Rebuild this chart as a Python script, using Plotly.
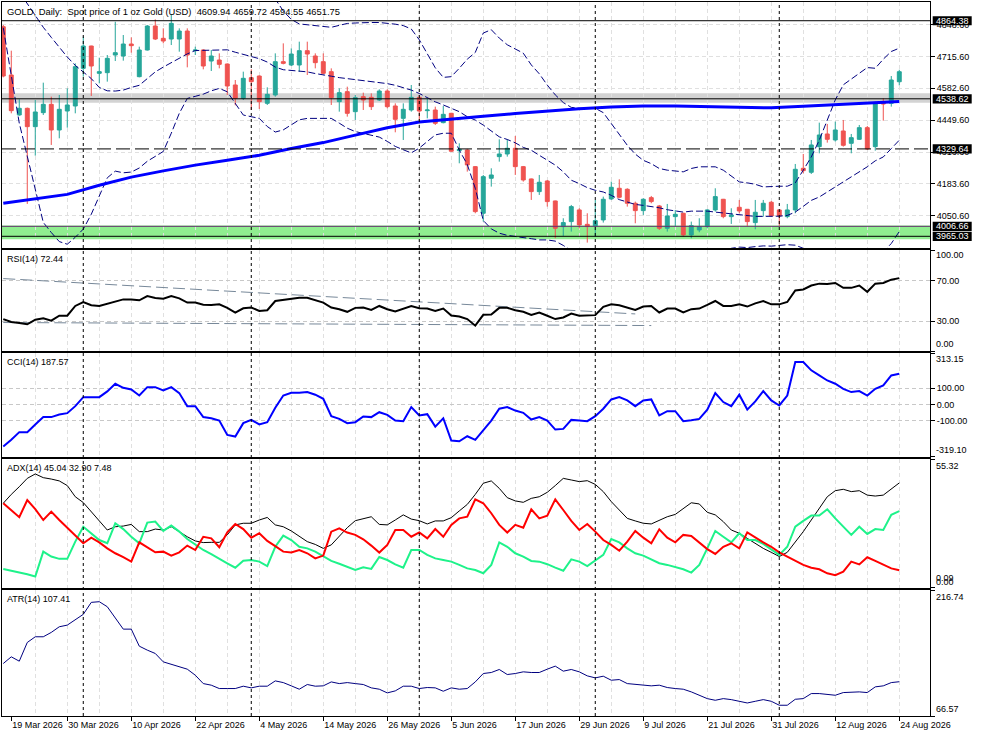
import pandas as pd
import plotly.graph_objects as go

# ---------------- data ----------------
dates = pd.bdate_range("2026-03-18", "2026-08-24")
dates = dates[dates != pd.Timestamp("2026-04-03")]
bars = list(range(len(dates)))

open_ = [4839.5, 4638.0, 4471.2, 4499.0, 4422.5, 4480.9, 4515.6, 4408.6, 4487.8, 4508.7,
         4665.7, 4758.9, 4644.9, 4647.7, 4721.4, 4717.2, 4767.2, 4631.0, 4742.2, 4842.3,
         4790.9, 4788.0, 4788.0, 4821.4, 4739.4, 4742.2, 4696.3, 4700.5, 4683.8, 4596.3,
         4540.7, 4626.8, 4633.8, 4519.8, 4554.6, 4693.6, 4679.7, 4679.7, 4739.4, 4717.2,
         4693.6, 4651.9, 4526.8, 4568.5, 4485.0, 4547.6, 4544.8, 4533.7, 4571.2, 4508.7,
         4457.2, 4492.0, 4544.8, 4489.2, 4492.0, 4439.2, 4478.1, 4322.4, 4325.2, 4255.7,
         4061.1, 4207.1, 4297.4, 4308.5, 4332.2, 4255.7, 4204.3, 4151.5, 4195.9, 4112.5,
         4005.5, 4026.4, 4075.0, 4015.0, 4008.3, 4033.3, 4120.9, 4165.4, 4161.2, 4102.8,
         4072.2, 4126.4, 4091.7, 3998.6, 4047.2, 4061.1, 3970.8, 3991.6, 4005.5, 4075.0,
         4119.5, 4047.2, 4086.1, 4077.8, 4022.2, 4072.2, 4107.0, 4075.0, 4047.2, 4075.0,
         4248.8, 4232.1, 4339.1, 4391.9, 4366.9, 4404.4, 4353.0, 4369.7, 4418.3, 4339.1,
         4522.6, 4519.8, 4609.94]
high = [4846.5, 4739.4, 4536.5, 4502.0, 4533.7, 4606.0, 4547.6, 4554.6, 4582.4, 4686.6,
        4797.8, 4760.0, 4710.2, 4721.4, 4860.0, 4804.8, 4795.0, 4756.1, 4846.5, 4870.0,
        4832.6, 4892.0, 4832.6, 4832.6, 4756.1, 4745.0, 4742.2, 4728.3, 4686.0, 4617.1,
        4651.9, 4661.6, 4636.0, 4586.5, 4728.3, 4770.0, 4749.2, 4777.0, 4777.0, 4728.3,
        4728.3, 4665.7, 4582.4, 4589.3, 4554.6, 4564.3, 4561.5, 4578.2, 4578.2, 4519.8,
        4519.8, 4596.3, 4554.6, 4540.7, 4505.9, 4508.7, 4480.0, 4353.0, 4330.0, 4258.0,
        4220.9, 4248.8, 4369.7, 4369.7, 4383.6, 4258.5, 4206.0, 4220.9, 4200.1, 4114.0,
        4040.3, 4095.9, 4082.0, 4061.1, 4116.7, 4130.6, 4193.2, 4202.9, 4165.4, 4109.8,
        4123.7, 4133.4, 4095.9, 4100.0, 4075.0, 4063.0, 4026.4, 4040.3, 4077.8, 4165.4,
        4121.0, 4082.0, 4116.7, 4079.0, 4116.7, 4116.7, 4112.5, 4077.0, 4100.0, 4266.8,
        4308.5, 4366.9, 4439.2, 4433.6, 4443.4, 4450.3, 4391.9, 4429.5, 4425.3, 4526.8,
        4540.7, 4633.8, 4659.72]
low = [4628.2, 4478.1, 4468.0, 4100.0, 4301.6, 4471.2, 4346.1, 4373.9, 4418.3, 4478.1,
       4631.0, 4550.4, 4603.2, 4610.2, 4696.3, 4697.7, 4731.1, 4628.2, 4740.0, 4783.9,
       4770.0, 4763.0, 4735.2, 4669.9, 4721.4, 4661.6, 4654.6, 4665.7, 4554.6, 4511.5,
       4533.7, 4492.0, 4496.2, 4512.9, 4547.6, 4682.4, 4675.5, 4651.9, 4638.0, 4665.7,
       4642.1, 4512.9, 4485.0, 4464.2, 4450.3, 4492.0, 4492.0, 4529.5, 4499.0, 4398.9,
       4366.9, 4485.0, 4450.3, 4457.2, 4429.5, 4436.4, 4318.2, 4269.6, 4234.9, 4061.1,
       4026.4, 4172.3, 4276.5, 4297.4, 4220.9, 4193.2, 4116.7, 4137.6, 4088.9, 3956.9,
       3966.6, 3984.7, 3998.6, 3938.8, 3963.8, 4022.2, 4116.7, 4123.7, 4088.9, 4019.4,
       4054.2, 4102.8, 3991.6, 3984.7, 4005.5, 3963.8, 3956.9, 3981.9, 3998.6, 4068.0,
       4040.3, 4016.6, 4061.1, 4008.3, 3994.4, 4047.2, 4047.2, 4008.3, 4040.3, 4061.1,
       4227.9, 4225.1, 4311.3, 4355.8, 4360.0, 4339.1, 4311.3, 4366.9, 4325.2, 4322.4,
       4447.5, 4506.0, 4594.55]
close = [4633.8, 4489.2, 4499.0, 4422.5, 4483.7, 4515.6, 4408.6, 4494.8, 4512.9, 4672.7,
         4758.9, 4675.5, 4651.9, 4707.5, 4731.1, 4767.2, 4760.3, 4742.2, 4842.3, 4788.0,
         4779.7, 4853.4, 4821.4, 4721.4, 4742.2, 4675.5, 4717.2, 4682.4, 4592.1, 4540.7,
         4624.1, 4610.2, 4526.8, 4557.3, 4693.6, 4686.6, 4725.5, 4739.4, 4725.5, 4689.4,
         4644.9, 4543.4, 4564.3, 4478.1, 4543.4, 4533.7, 4505.9, 4571.2, 4505.9, 4453.1,
         4494.8, 4544.8, 4487.8, 4492.0, 4436.4, 4473.9, 4320.0, 4328.0, 4262.7, 4068.0,
         4214.0, 4220.9, 4308.5, 4332.2, 4255.7, 4200.1, 4151.5, 4190.4, 4109.8, 3998.6,
         4022.2, 4088.9, 4012.5, 4005.5, 4030.5, 4119.5, 4169.5, 4127.8, 4102.8, 4072.2,
         4119.5, 4109.8, 3998.6, 4050.0, 4056.9, 3970.8, 4009.7, 4005.5, 4075.0, 4130.6,
         4047.2, 4054.2, 4070.8, 4026.4, 4065.3, 4102.8, 4050.0, 4050.0, 4075.0, 4244.6,
         4239.0, 4346.1, 4387.8, 4369.7, 4408.6, 4344.7, 4376.6, 4418.3, 4329.4, 4519.8,
         4517.0, 4617.1, 4651.75]

bb_upper = [None] * 33 + [
    4990, 4955, 4905, 4870, 4851, 4848, 4845, 4842, 4837, 4845,
    4853, 4855, 4857, 4857, 4857, 4855, 4850, 4844, 4830, 4785,
    4725, 4668, 4628, 4631, 4666, 4704, 4732, 4813, 4827, 4792,
    4764, 4746, 4729, 4680, 4643, 4596, 4555, 4523, 4503, 4499,
    4499, 4499, 4481, 4436, 4387, 4345, 4308, 4282, 4268, 4248,
    4241, 4238, 4234, 4248, 4255, 4255, 4255, 4241, 4217, 4192,
    4188, 4182, 4171, 4174, 4174, 4174, 4188, 4241, 4296, 4366,
    4450, 4534, 4597, 4620, 4645, 4669, 4666, 4704, 4736, 4750]
bb_middle = [None, None, 4985, 4935, 4885, 4837, 4795, 4754, 4713, 4678,
             4651, 4623, 4586, 4572, 4571, 4575, 4586, 4595, 4623, 4651,
             4671, 4689, 4706, 4726, 4740, 4740, 4740, 4740, 4743, 4733,
             4724, 4715, 4706, 4692, 4671, 4660, 4657, 4653, 4651, 4644,
             4637, 4633, 4627, 4623, 4620, 4616, 4612, 4609, 4602, 4595,
             4586, 4575, 4561, 4544, 4526, 4513, 4499, 4485, 4464, 4450,
             4429, 4405, 4380, 4369, 4355, 4336, 4324, 4303, 4282, 4262,
             4234, 4199, 4185, 4168, 4157, 4150, 4136, 4118, 4108, 4098,
             4094, 4090, 4084, 4076, 4070, 4066, 4070, 4070, 4070, 4066,
             4062, 4059, 4056, 4052, 4048, 4048, 4048, 4049, 4052, 4066,
             4090, 4115, 4129, 4150, 4171, 4192, 4213, 4234, 4255, 4280,
             4296, 4331, 4366]
bb_lower = [4835, 4630, 4437, 4299, 4161, 4023, 3981, 3943, 3932, 3961,
            3995, 4057, 4133, 4209, 4237, 4230, 4233, 4250, 4278, 4299,
            4319, 4395, 4478, 4540, 4550, 4558, 4572, 4582, 4568, 4519,
            4471, 4464, 4457, 4423, 4400, 4409, 4430, 4451, 4457, 4457,
            4457, 4457, 4437, 4416, 4402, 4395, 4388, 4379, 4361, 4340,
            4326, 4313, 4333, 4361, 4388, 4395, 4395, 4325, 4265, 4165,
            4031, 3996, 3978, 3969, 3965, 3962, 3955, 3950, 3950, 3945,
            3927, 3905, 3885, 3870, 3860, 3855, 3850, 3860, 3880, 3900,
            3912, 3912, 3905, 3900, 3898, 3892, 3885, 3885, 3885, 3895,
            3905, 3915, 3920, 3918, 3922, 3925, 3924, 3926, 3930, 3928,
            3915, 3890, 3850, 3820, 3808, 3815, 3820, 3830, 3841, 3870,
            3900, 3935, 3985]

ma_bars = list(range(0, 113, 4))
ma_values = [4103, 4121, 4140, 4178, 4212, 4238, 4262, 4282, 4303, 4331,
             4356, 4387, 4418, 4442, 4455, 4466, 4477, 4488, 4497, 4504,
             4509, 4509, 4507, 4503, 4501, 4508, 4514, 4521, 4527]

rsi = [31.9, 29.0, 28.0, 26.7, 31.3, 32.6, 30.3, 35.2, 35.2, 44.9,
       48.8, 45.6, 44.9, 47.2, 49.8, 51.4, 51.4, 50.5, 54.7, 52.7,
       52.1, 54.7, 52.4, 48.2, 48.2, 46.2, 45.9, 46.5, 43.0, 38.4,
       42.6, 43.3, 40.0, 40.7, 49.8, 50.8, 52.4, 53.0, 53.0, 50.8,
       48.2, 43.3, 41.7, 39.1, 43.0, 43.3, 41.0, 44.9, 41.7, 39.4,
       42.3, 44.9, 42.6, 42.3, 40.0, 42.3, 35.5, 34.5, 31.9, 25.4,
       36.1, 36.5, 43.0, 43.0, 40.7, 39.1, 36.1, 38.4, 35.2, 31.9,
       33.5, 37.4, 35.2, 35.2, 35.8, 44.0, 46.6, 45.6, 43.3, 41.0,
       44.3, 44.9, 38.4, 42.3, 42.3, 38.4, 41.7, 42.3, 45.9, 49.8,
       44.9, 44.9, 46.5, 44.3, 47.5, 49.8, 46.5, 46.5, 48.8, 60.2,
       61.2, 65.1, 67.0, 66.7, 67.7, 62.8, 62.8, 65.1, 58.9, 67.0,
       67.7, 70.9, 72.44]
rsi_trend_upper_x = [0, 79]
rsi_trend_upper_y = [72.0, 37.0]
rsi_trend_lower_x = [0, 81]
rsi_trend_lower_y = [28.5, 25.5]

cci = [-257, -216, -169, -169, -122, -77, -77, -61, -53, -10,
       45, 45, 45, 80, 127, 102, 92, 55, 106, 106,
       86, 106, 70, -10, -10, -77, -84, -98, -186, -196,
       -114, -94, -122, -108, -20, 55, 72, 72, 76, 60,
       35, -71, -88, -114, -108, -73, -77, -47, -63, -98,
       -102, -16, -67, -59, -135, -84, -220, -225, -194, -216,
       -159, -98, -26, -16, -37, -51, -92, -77, -98, -153,
       -149, -94, -98, -102, -71, -26, 31, 45, 25, -10,
       25, 31, -67, -41, -41, -102, -96, -88, -31, 70,
       15, -10, 60, -31, 19, 82, 25, -6, 55, 260,
       260, 209, 178, 147, 127, 96, 76, 82, 55, 96,
       117, 178, 187.57]

adx = [36.3, 40.1, 43.4, 47.0, 48.9, 47.3, 46.7, 45.9, 43.9, 39.1,
       36.6, 32.7, 28.7, 24.8, 26.2, 26.5, 27.2, 24.1, 24.1, 25.2,
       24.8, 26.2, 24.1, 21.9, 20.1, 19.4, 19.5, 19.5, 22.7, 27.0,
       27.7, 27.7, 29.1, 30.2, 27.0, 26.2, 24.4, 22.2, 19.8, 18.6,
       16.9, 18.4, 21.9, 25.8, 28.8, 29.8, 30.5, 27.2, 27.0, 29.1,
       31.3, 29.5, 28.8, 27.4, 28.7, 28.7, 30.1, 33.0, 35.8, 40.1,
       44.9, 45.9, 42.7, 38.7, 37.3, 36.7, 38.4, 39.1, 41.0, 43.9,
       47.0, 46.3, 45.6, 46.0, 44.4, 41.3, 37.0, 33.4, 29.8, 28.7,
       27.7, 27.4, 29.1, 30.5, 31.5, 34.1, 36.5, 36.0, 32.4, 31.3,
       28.4, 24.8, 23.4, 21.2, 19.1, 16.9, 15.2, 13.4, 15.2, 19.5,
       24.1, 29.1, 34.1, 39.1, 41.7, 42.3, 41.3, 41.7, 39.8, 39.4,
       39.8, 42.3, 45.04]
plus_di = [8.0, 7.3, 6.6, 5.8, 4.8, 15.5, 13.4, 12.4, 12.4, 19.8,
           26.2, 23.4, 20.5, 19.1, 27.7, 25.2, 21.9, 19.1, 28.0, 28.4,
           24.4, 26.7, 24.1, 20.9, 18.6, 16.2, 14.4, 12.6, 10.5, 8.6,
           11.6, 11.9, 11.2, 9.3, 17.6, 22.4, 20.5, 17.6, 16.9, 15.5,
           13.4, 11.5, 10.3, 9.0, 7.6, 8.8, 8.1, 13.2, 11.9, 10.0,
           8.6, 16.2, 16.2, 14.1, 12.6, 11.9, 11.2, 9.8, 8.3, 7.6,
           6.2, 9.8, 19.5, 17.6, 14.8, 13.4, 11.5, 11.2, 10.1, 8.6,
           7.3, 12.2, 11.2, 9.3, 11.9, 14.1, 20.9, 19.5, 16.9, 14.8,
           13.8, 12.3, 10.5, 9.8, 8.8, 7.9, 6.5, 9.8, 16.9, 24.4,
           21.9, 19.5, 23.4, 20.5, 20.5, 18.8, 16.5, 14.1, 17.6, 26.2,
           28.7, 31.0, 31.0, 33.7, 29.8, 26.2, 22.7, 26.2, 23.1, 25.2,
           24.8, 31.3, 32.90]
minus_di = [36.3, 33.4, 30.3, 37.7, 33.8, 29.1, 32.7, 29.1, 25.8, 22.2,
            19.1, 21.5, 19.5, 16.9, 14.8, 13.1, 11.2, 19.5, 17.2, 15.2,
            15.5, 13.8, 15.2, 18.1, 16.2, 21.9, 21.2, 17.4, 23.8, 27.4,
            25.2, 21.5, 23.4, 20.1, 17.9, 15.5, 15.1, 16.2, 14.8, 12.6,
            13.8, 24.1, 25.5, 23.7, 22.7, 20.8, 18.1, 15.1, 18.4, 24.8,
            24.8, 21.9, 23.8, 21.2, 25.2, 21.9, 27.0, 29.8, 30.5, 38.0,
            36.3, 32.0, 27.0, 23.7, 27.0, 25.8, 33.7, 29.8, 31.0, 38.0,
            33.4, 28.7, 24.8, 27.4, 24.1, 20.5, 18.4, 15.9, 19.8, 24.4,
            21.5, 19.1, 25.1, 21.5, 19.5, 22.7, 22.2, 19.5, 16.6, 14.5,
            17.6, 19.1, 16.9, 23.8, 21.6, 19.5, 17.6, 15.2, 13.4, 11.5,
            9.8, 8.6, 7.9, 6.2, 5.4, 6.9, 11.2, 10.0, 13.1, 11.5,
            9.8, 8.3, 7.48]

atr = [129.1, 137.1, 131.9, 154.2, 161.0, 161.0, 166.2, 172.9, 174.9, 180.9,
       187.7, 202.0, 202.8, 196.8, 182.9, 170.1, 170.1, 149.8, 145.1, 141.1,
       131.1, 128.0, 125.2, 122.4, 115.2, 105.2, 103.3, 99.3, 99.3, 99.3,
       102.1, 100.1, 102.1, 102.1, 108.4, 106.4, 102.5, 98.5, 104.1, 102.1,
       102.5, 107.2, 105.2, 106.4, 105.2, 104.1, 100.1, 98.5, 94.1, 96.5,
       102.1, 102.1, 99.3, 100.5, 100.1, 96.1, 100.1, 98.5, 99.3, 107.2,
       117.2, 118.4, 122.0, 116.0, 117.2, 119.2, 118.4, 118.4, 122.4, 126.0,
       120.0, 122.0, 119.2, 114.4, 112.0, 114.0, 109.2, 110.0, 105.2, 104.0,
       103.3, 102.5, 103.3, 100.5, 99.3, 98.5, 95.3, 91.3, 87.3, 85.3,
       87.3, 86.1, 84.1, 82.1, 84.1, 86.1, 84.1, 79.4, 79.4, 86.5,
       87.3, 93.3, 93.3, 92.1, 91.3, 94.5, 95.3, 95.3, 94.5, 101.3,
       102.5, 106.4, 107.41]

tick_labels = ["19 Mar 2026", "30 Mar 2026", "10 Apr 2026", "22 Apr 2026", "4 May 2026",
               "14 May 2026", "26 May 2026", "5 Jun 2026", "17 Jun 2026", "29 Jun 2026",
               "9 Jul 2026", "21 Jul 2026", "31 Jul 2026", "12 Aug 2026", "24 Aug 2026"]
price_ticks = [4848.60, 4715.60, 4582.60, 4449.60, 4316.60, 4183.60, 4050.60]
level_values = [4864.38, 4538.62, 4329.64, 4006.66, 3965.03]
gray_zone = [4522.0, 4562.0]
green_zone = [3953.0, 4010.0]
cci_levels = [-100, 0, 100]
rsi_levels = [30, 70]

title_text = ("GOLD,\u00a0Daily:\u00a0\u00a0Spot price of 1 oz Gold (USD)\u00a0\u00a0"
              "4609.94 4659.72 4594.55 4651.75")

for arr in (open_, high, low, close, bb_upper, bb_middle, bb_lower, rsi, cci, adx, plus_di, minus_di, atr):
    assert len(arr) == len(bars), len(arr)

# ---------------- layout helpers ----------------
W, H = 983, 737
ML, MR, MT, MB = 2, 53, 2, 21
PH = H - MT - MB            # plot height in px
PW = W - ML - MR


def dom(top_px, bot_px):
    return [max(0.0, (H - MB - bot_px) / PH), min(1.0, (H - MB - top_px) / PH)]


FONT = "Liberation Sans"
FS = 9
TEAL = "#26a69a"
RED = "#ef5350"
NAVY = "#000080"
GRID = "#e0e0e0"

price_range = [3915.0, 4942.5]
panels = {
    1: dom(2, 248.3),
    2: dom(250.3, 351.3),
    3: dom(353.3, 456.7),
    4: dom(459, 587.7),
    5: dom(590, 716),
}
xrange_ = [-0.16, 115.84]

fig = go.Figure()

# price panel
fig.add_trace(go.Candlestick(
    x=bars, open=open_, high=high, low=low, close=close,
    increasing=dict(line=dict(color=TEAL, width=1), fillcolor=TEAL),
    decreasing=dict(line=dict(color=RED, width=1), fillcolor=RED),
    whiskerwidth=0, xaxis="x", yaxis="y", showlegend=False, hoverinfo="skip"))
for band in (bb_upper, bb_middle, bb_lower):
    fig.add_trace(go.Scatter(x=bars, y=band, mode="lines", xaxis="x", yaxis="y",
                             line=dict(color=NAVY, width=1, dash="7px,3px"),
                             connectgaps=False, showlegend=False, hoverinfo="skip"))
fig.add_trace(go.Scatter(x=ma_bars, y=ma_values, mode="lines", xaxis="x", yaxis="y",
                         line=dict(color="#0000ff", width=3), showlegend=False, hoverinfo="skip"))

# RSI
fig.add_trace(go.Scatter(x=rsi_trend_upper_x, y=rsi_trend_upper_y, mode="lines", xaxis="x2", yaxis="y2",
                         line=dict(color="#778899", width=1, dash="12px,5px"), showlegend=False))
fig.add_trace(go.Scatter(x=rsi_trend_lower_x, y=rsi_trend_lower_y, mode="lines", xaxis="x2", yaxis="y2",
                         line=dict(color="#778899", width=1, dash="12px,5px"), showlegend=False))
fig.add_trace(go.Scatter(x=bars, y=rsi, mode="lines", xaxis="x2", yaxis="y2",
                         line=dict(color="black", width=2), showlegend=False))
# CCI
fig.add_trace(go.Scatter(x=bars, y=cci, mode="lines", xaxis="x3", yaxis="y3",
                         line=dict(color="#0000ff", width=2), showlegend=False))
# ADX
fig.add_trace(go.Scatter(x=bars, y=adx, mode="lines", xaxis="x4", yaxis="y4",
                         line=dict(color="black", width=1), showlegend=False))
fig.add_trace(go.Scatter(x=bars, y=plus_di, mode="lines", xaxis="x4", yaxis="y4",
                         line=dict(color="#1ef28a", width=2), showlegend=False))
fig.add_trace(go.Scatter(x=bars, y=minus_di, mode="lines", xaxis="x4", yaxis="y4",
                         line=dict(color="#ff0000", width=2), showlegend=False))
# ATR
fig.add_trace(go.Scatter(x=bars, y=atr, mode="lines", xaxis="x5", yaxis="y5",
                         line=dict(color=NAVY, width=1), showlegend=False))

# ---------------- axes ----------------
tick_pos = [dates.get_loc(pd.to_datetime(t, format="%d %b %Y")) for t in tick_labels]
grid_pos = list(range(4, len(bars), 4))

axis_common = dict(showline=True, mirror=True, linecolor="black", linewidth=1,
                   zeroline=False, automargin=False,
                   tickfont=dict(family=FONT, size=FS, color="black"))
layout = dict(width=W, height=H, margin=dict(l=ML, r=MR, t=MT, b=MB, autoexpand=False),
              paper_bgcolor="white", plot_bgcolor="white", showlegend=False, hovermode=False,
              font=dict(family=FONT, size=FS, color="black"))

for k in range(1, 6):
    xn = "xaxis" if k == 1 else f"xaxis{k}"
    yn = "yaxis" if k == 1 else f"yaxis{k}"
    xa = dict(axis_common, domain=[0, 1], range=xrange_, anchor="y" if k == 1 else f"y{k}",
              showgrid=False, rangeslider=dict(visible=False),
              minor=dict(tickvals=grid_pos, showgrid=True, gridcolor=GRID, griddash="4px,3px",
                         gridwidth=1, ticks=""))
    if k > 1:
        xa["matches"] = "x"
    if k == 5:
        xa.update(tickmode="array", tickvals=tick_pos, ticktext=tick_labels, ticks="outside",
                  ticklen=4, tickcolor="black", ticklabelposition="outside right",
                  tickangle=0, showticklabels=True)
    else:
        xa.update(showticklabels=False, ticks="")
    layout[xn] = xa
    layout[yn] = dict(axis_common, domain=panels[k], side="right",
                      anchor="x" if k == 1 else f"x{k}", ticks="outside", ticklen=4,
                      tickcolor="black", fixedrange=True)

layout["yaxis"].update(range=price_range, tickmode="array", tickvals=price_ticks,
                       ticktext=[f"{v:.2f}" for v in price_ticks],
                       showgrid=True, gridcolor=GRID, griddash="4px,3px")
layout["yaxis2"].update(range=[0, 100], tickmode="array", tickvals=[0] + rsi_levels + [100],
                        ticktext=[""] + [f"{v:.2f}" for v in rsi_levels] + [""],
                        showgrid=True, gridcolor="#c8c8c8", griddash="4px,3px")
layout["yaxis3"].update(range=[-319.10, 313.15], tickmode="array",
                        tickvals=[-319.10] + cci_levels + [313.15],
                        ticktext=[""] + [f"{v:.2f}" for v in cci_levels] + [""],
                        showgrid=True, gridcolor="#c8c8c8", griddash="4px,3px")
layout["yaxis4"].update(range=[0, 55.32], tickmode="array", tickvals=[0, 55.32],
                        ticktext=["", ""], showgrid=False)
layout["yaxis5"].update(range=[66.57, 216.74], tickmode="array", tickvals=[66.57, 216.74],
                        ticktext=["", ""], showgrid=False)

fig.update_layout(**layout)

# ---------------- shapes ----------------
shapes = []
shapes.append(dict(type="rect", xref="x domain", yref="y", x0=0, x1=1, y0=gray_zone[0], y1=gray_zone[1],
                   fillcolor="#d3d3d3", line=dict(width=0), layer="below"))
shapes.append(dict(type="rect", xref="x domain", yref="y", x0=0, x1=1, y0=green_zone[0], y1=green_zone[1],
                   fillcolor="#90ee90", line=dict(width=0), layer="below"))
level_styles = {4864.38: ("black", "solid"), 4538.62: ("black", "solid"),
                4329.64: ("black", "14px,5px"), 4006.66: ("#64326e", "solid"),
                3965.03: ("black", "solid")}
for v in level_values:
    c, d = level_styles[v]
    shapes.append(dict(type="line", xref="x domain", yref="y", x0=0, x1=1, y0=v, y1=v,
                       line=dict(color=c, width=1, dash=d)))
# period separators (first bar of each month)
months = dates.to_period("M")
sep_pos = [i for i in range(1, len(dates)) if months[i] != months[i - 1]]
for i in sep_pos:
    shapes.append(dict(type="line", xref="x", yref="paper", x0=i, x1=i, y0=0, y1=1,
                       line=dict(color="black", width=1, dash="3px,3px")))
# label boxes on the price scale
ppp = (price_range[1] - price_range[0]) / ((panels[1][1] - panels[1][0]) * PH)  # price per px
for v in level_values:
    shapes.append(dict(type="rect", xref="paper", yref="y",
                       x0=1 + 2.7 / PW, x1=1 + 41.7 / PW, y0=v - 4.6 * ppp, y1=v + 4.6 * ppp,
                       fillcolor="black", line=dict(width=0)))
fig.update_layout(shapes=shapes)

# ---------------- annotations ----------------
ann = []
for v in level_values:
    ann.append(dict(xref="paper", yref="y", x=1, y=v, xanchor="left", yanchor="middle",
                    xshift=4, text=f"{v:.2f}", showarrow=False,
                    font=dict(family=FONT, size=FS, color="white")))


def edge(text, yref, y, anchor, shift=0):
    ann.append(dict(xref="paper", yref=yref, x=1, y=y, xanchor="left", yanchor=anchor,
                    xshift=4, yshift=shift, text=text, showarrow=False,
                    font=dict(family=FONT, size=FS, color="black")))


edge("100.00", "y2", 100, "top", 2)
edge("0.00", "y2", 0, "bottom", 0)
edge("313.15", "y3", 313.15, "top", 1)
edge("-319.10", "y3", -319.10, "bottom", 0)
edge("55.32", "y4", 55.32, "top", 0)
edge("0.09", "y4", 0, "bottom", 3)
edge("0.00", "y4", 0, "bottom", -1)
edge("216.74", "y5", 216.74, "top", 0)
edge("66.57", "y5", 66.57, "bottom", 0)

panel_titles = [("y domain", title_text, 9.4), ("y2 domain", "RSI(14) 72.44", FS),
                ("y3 domain", "CCI(14) 187.57", FS), ("y4 domain", "ADX(14) 45.04 32.90 7.48", FS),
                ("y5 domain", "ATR(14) 107.41", FS)]
for yref, txt, fs in panel_titles:
    ann.append(dict(xref="paper", yref=yref, x=0, y=1, xanchor="left", yanchor="top",
                    xshift=3, yshift=-2, text=txt, showarrow=False,
                    font=dict(family=FONT, size=fs, color="black")))
fig.update_layout(annotations=ann)

fig.write_html("out.html", config={"displayModeBar": False, "staticPlot": True},
               post_script="document.body.style.margin='0px';document.body.style.overflow='hidden';")
